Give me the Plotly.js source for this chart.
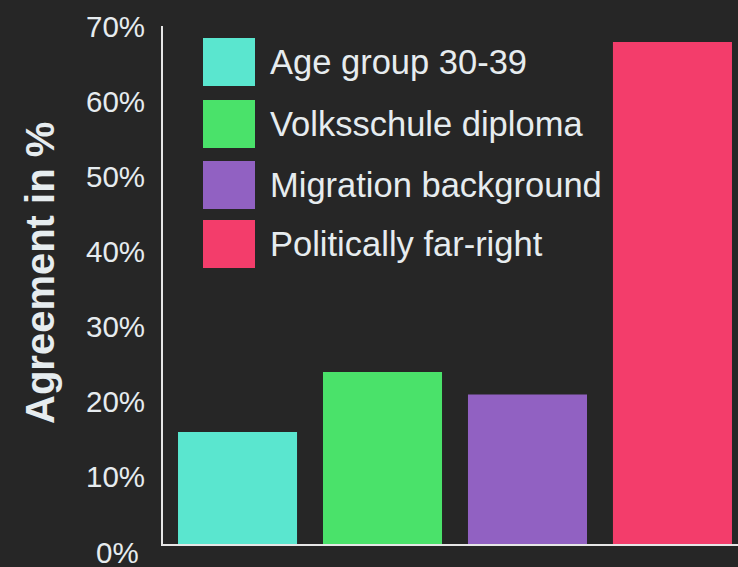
<!DOCTYPE html>
<html>
<head>
<meta charset="utf-8">
<script src="https://cdn.plot.ly/plotly-3.0.1.min.js"></script>
<style>html,body{margin:0;padding:0;background:#262626;}#chart{width:738px;height:567px;}</style>
</head>
<body>
<div id="chart"></div>
<script>
// Data
var categories = ["Age group 30-39", "Volksschule diploma", "Migration background", "Politically far-right"];
var agreement = [16, 24, 21, 68];
var barColors = ["#5ae6cf", "#4ae26a", "#9161c2", "#f33d6b"];
var tickValues = [10, 20, 30, 40, 50, 60, 70];
var tickLabels = ["10%", "20%", "30%", "40%", "50%", "60%", "70%"];
var zeroLabel = "0%";
var yTitle = "Agreement in %";

var W = 738, H = 567;
var M = {l: 163, r: 0, t: 26, b: 23};
var PW = W - M.l - M.r, PH = H - M.t - M.b;
function px2x(px) { return (px - M.l) / PW; }
function px2y(py) { return (H - M.b - py) / PH; }

var textColor = "#e6ecef";
var fontFam = "Liberation Sans, Arial, Helvetica, sans-serif";

var trace = {
  type: "bar",
  x: categories,
  y: agreement,
  marker: {color: barColors},
  showlegend: false,
  hoverinfo: "x+y"
};

// Legend rows (layout positions in pixels)
var legTop = [38, 100, 161, 220];
var shapes = [], annotations = [];
categories.forEach(function (c, i) {
  shapes.push({
    type: "rect", xref: "paper", yref: "paper",
    x0: px2x(203), x1: px2x(255),
    y0: px2y(legTop[i] + 48), y1: px2y(legTop[i]),
    fillcolor: barColors[i], line: {width: 0}
  });
  annotations.push({
    xref: "paper", yref: "paper",
    x: px2x(268), y: px2y(legTop[i] + 24),
    xanchor: "left", yanchor: "middle",
    text: c, showarrow: false,
    font: {family: fontFam, size: 34.5, color: textColor}
  });
});
// y-axis title
annotations.push({
  xref: "paper", yref: "paper",
  x: px2x(40), y: px2y(273),
  xanchor: "center", yanchor: "middle",
  text: "<b>" + yTitle + "</b>", textangle: -90, showarrow: false,
  font: {family: fontFam, size: 40, color: textColor}
});
// 0% tick label (sits below the baseline in the reference)
annotations.push({
  xref: "paper", yref: "paper",
  x: px2x(117), y: px2y(552),
  xanchor: "center", yanchor: "middle",
  height: 22, valign: "middle",
  text: zeroLabel, showarrow: false,
  font: {family: fontFam, size: 29.5, color: textColor}
});

var layout = {
  width: W, height: H,
  margin: M,
  paper_bgcolor: "#262626",
  plot_bgcolor: "#262626",
  bargap: 0.179,
  xaxis: {
    type: "category",
    range: [-0.514, 3.452],
    showticklabels: false,
    ticks: "",
    showgrid: false,
    zeroline: false,
    showline: true, linecolor: "#e6e6e6", linewidth: 2
  },
  yaxis: {
    range: [1.067, 70.133],
    tickmode: "array",
    tickvals: tickValues,
    ticktext: tickLabels,
    ticks: "",
    ticklabelstandoff: 10,
    tickfont: {family: fontFam, size: 29.5, color: textColor},
    showgrid: false,
    zeroline: false,
    showline: true, linecolor: "#e6e6e6", linewidth: 2
  },
  shapes: shapes,
  annotations: annotations
};

Plotly.newPlot("chart", [trace], layout, {displayModeBar: false, staticPlot: true});
</script>
</body>
</html>
